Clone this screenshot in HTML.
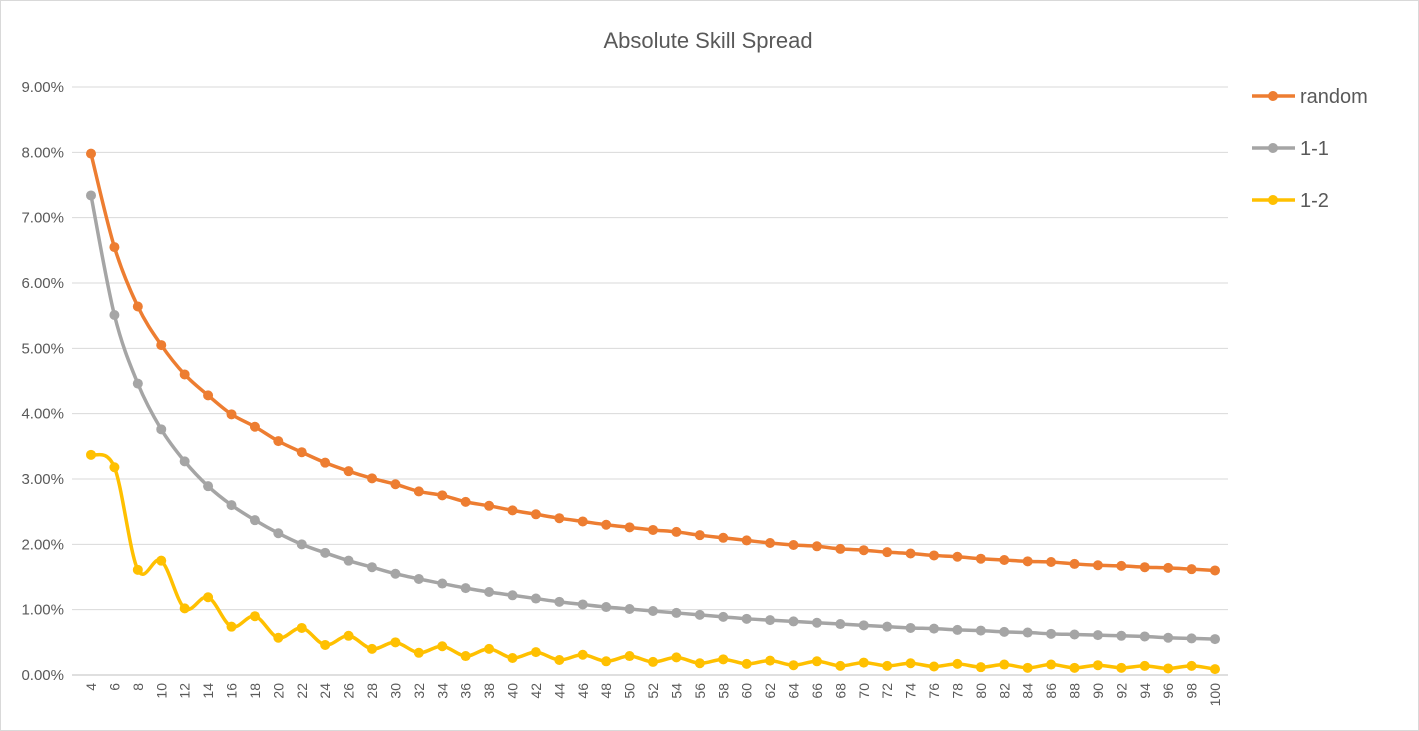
<!DOCTYPE html>
<html><head><meta charset="utf-8"><style>
body{margin:0;background:#fff;}
svg{display:block;font-family:"Liberation Sans",sans-serif;}
</style></head><body>
<svg id="chart" width="1419" height="731" viewBox="0 0 1419 731">
<rect x="0.5" y="0.5" width="1418" height="730" fill="#fff" stroke="#d9d9d9"/>
<text x="708" y="48" text-anchor="middle" font-size="22" fill="#595959">Absolute Skill Spread</text>
<g id="grid"></g><g id="yt"></g><g id="xt"></g><g id="series"></g><g id="legend"></g>
</svg>
<script>
const categories=[];for(let c=4;c<=100;c+=2)categories.push(c);
const yTicks=[0,1,2,3,4,5,6,7,8,9];
const seriesNames=["random","1-1","1-2"];
const seriesColors=["#ed7d31","#a5a5a5","#ffc000"];
const randomVals=[7.98,6.55,5.64,5.05,4.60,4.28,3.99,3.80,3.58,3.41,3.25,3.12,3.01,2.92,2.81,2.75,2.65,2.59,2.52,2.46,2.40,2.35,2.30,2.26,2.22,2.19,2.14,2.10,2.06,2.02,1.99,1.97,1.93,1.91,1.88,1.86,1.83,1.81,1.78,1.76,1.74,1.73,1.70,1.68,1.67,1.65,1.64,1.62,1.60];
const oneOneVals=[7.34,5.51,4.46,3.76,3.27,2.89,2.60,2.37,2.17,2.00,1.87,1.75,1.65,1.55,1.47,1.40,1.33,1.27,1.22,1.17,1.12,1.08,1.04,1.01,0.98,0.95,0.92,0.89,0.86,0.84,0.82,0.80,0.78,0.76,0.74,0.72,0.71,0.69,0.68,0.66,0.65,0.63,0.62,0.61,0.60,0.59,0.57,0.56,0.55];
const oneTwoVals=[3.37,3.18,1.61,1.75,1.02,1.19,0.74,0.90,0.57,0.72,0.46,0.60,0.40,0.50,0.34,0.44,0.29,0.40,0.26,0.35,0.23,0.31,0.21,0.29,0.20,0.27,0.18,0.24,0.17,0.22,0.15,0.21,0.14,0.19,0.14,0.18,0.13,0.17,0.12,0.16,0.11,0.16,0.11,0.15,0.11,0.14,0.10,0.14,0.09];
const NS="http://www.w3.org/2000/svg";
const X0=72,X1=1228,Y0=675,Y9=87;
const XF=91,XL=1215;
const xs=i=>XF+(XL-XF)/(categories.length-1)*i;
const ys=v=>Y0-(Y0-Y9)*v/9;
function mk(t,a,p){const e=document.createElementNS(NS,t);for(const k in a)e.setAttribute(k,a[k]);p.appendChild(e);return e;}
const grid=document.getElementById('grid'),yt=document.getElementById('yt'),xt=document.getElementById('xt');
yTicks.forEach(v=>{
 const l=mk('line',{x1:X0,x2:X1,y1:ys(v),y2:ys(v),stroke:v===0?'#bfbfbf':'#d9d9d9','stroke-width':1},grid);
 
 
 const t=mk('text',{x:64,y:ys(v)+5,'text-anchor':'end','font-size':15,fill:'#595959'},yt);
 t.textContent=v.toFixed(2)+'%';
 
 
});
categories.forEach((c,i)=>{
 const x=xs(i);
 const t=mk('text',{x:0,y:0,'text-anchor':'end','font-size':14,fill:'#595959',transform:`translate(${x+5},683) rotate(-90)`},xt);
 t.textContent=c;
 
 
});
function smooth(p){let d=`M${p[0][0]},${p[0][1]}`;for(let i=0;i<p.length-1;i++){const a=p[i-1]||p[i],b=p[i],c=p[i+1],e=p[i+2]||c;const t=1/6;d+=` C${b[0]+(c[0]-a[0])*t},${b[1]+(c[1]-a[1])*t} ${c[0]-(e[0]-b[0])*t},${c[1]-(e[1]-b[1])*t} ${c[0]},${c[1]}`;}return d;}
const sg=document.getElementById('series'),lg=document.getElementById('legend');
[randomVals,oneOneVals,oneTwoVals].forEach((vals,si)=>{
 const col=seriesColors[si];
 const g=mk('g',{},sg);
 
 
 const pts=vals.map((v,i)=>[xs(i),ys(v)]);
 const p=mk('path',{d:smooth(pts),fill:'none',stroke:col,'stroke-width':3.5,'stroke-linejoin':'round'},g);
 
 
 pts.forEach(q=>{const c=mk('circle',{cx:q[0],cy:q[1],r:5,fill:col},g);
  
  });
 const ly=96+52*si;
 const le=mk('g',{},lg);
 
 
 mk('line',{x1:1252,x2:1295,y1:ly,y2:ly,stroke:col,'stroke-width':3.5},le);
 mk('circle',{cx:1273,cy:ly,r:5,fill:col},le);
 const t=mk('text',{x:1300,y:ly+7,'font-size':20,fill:'#595959'},le);
 t.textContent=seriesNames[si];
});
</script>
</body></html>
